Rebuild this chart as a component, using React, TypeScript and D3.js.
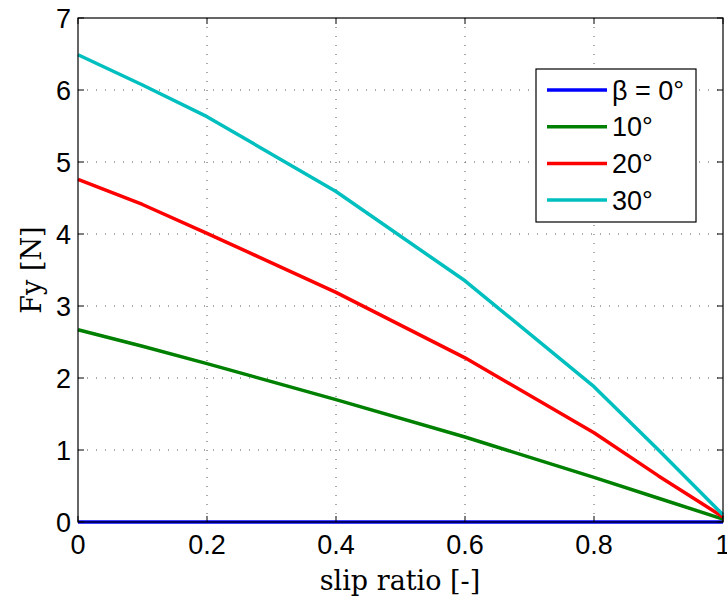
import React from "react";
import * as d3 from "d3";

const slip = [0, 0.1, 0.2, 0.4, 0.6, 0.8, 0.9, 1];
const fy0 = [0, 0, 0, 0, 0, 0, 0, 0];
const fy10 = [2.67, 2.44, 2.2, 1.7, 1.18, 0.62, 0.33, 0.04];
const fy20 = [4.76, 4.41, 4.01, 3.19, 2.28, 1.24, 0.64, 0.07];
const fy30 = [6.49, 6.07, 5.63, 4.59, 3.35, 1.88, 1.0, 0.1];
const seriesNames = ["β = 0°", "10°", "20°", "30°"];
const seriesColors = ["#0000ff", "#008000", "#ff0000", "#00bfbf"];
const xTicks = [0, 0.2, 0.4, 0.6, 0.8, 1];
const yTicks = [0, 1, 2, 3, 4, 5, 6, 7];

export default function App() {
  const W = 727, H = 601;
  const L = 78, R = 723, T = 18, B = 522;
  const x = d3.scaleLinear().domain([0, 1]).range([L, R]);
  const y = d3.scaleLinear().domain([0, 7]).range([B, T]);
  const series = [fy0, fy10, fy20, fy30];
  const line = d3.line<number>().x((_, i) => x(slip[i])).y((d) => y(d));
  const sans = "'Liberation Sans', Arial, Helvetica, sans-serif";
  const serif = "'DejaVu Serif', 'Liberation Serif', serif";
  const tick = 6;
  const lg = { x: 536, y: 69, w: 160, h: 153 };
  return (
    <svg width={W} height={H} style={{ position: "absolute", left: 0, top: 0 }}>
      <rect x={0} y={0} width={W} height={H} fill="#fff" />
      {/* grid */}
      {xTicks.slice(1, -1).map((t) => (
        <line key={"gx" + t} x1={x(t)} x2={x(t)} y1={T} y2={B} stroke="#555" strokeWidth={1} strokeDasharray="1,8" />
      ))}
      {yTicks.slice(1, -1).map((t) => (
        <line key={"gy" + t} x1={L} x2={R} y1={y(t)} y2={y(t)} stroke="#555" strokeWidth={1} strokeDasharray="1,8" />
      ))}
      {/* data */}
      {series.map((s, i) => (
        <path key={i} d={line(s) || ""} fill="none" stroke={seriesColors[i]} strokeWidth={3.5} strokeLinejoin="round" />
      ))}
      {/* box */}
      <rect x={L} y={T} width={R - L} height={B - T} fill="none" stroke="#000" strokeWidth={1.2} />
      {/* ticks */}
      {xTicks.map((t) => (
        <g key={"tx" + t}>
          <line x1={x(t)} x2={x(t)} y1={B} y2={B - tick} stroke="#000" />
          <line x1={x(t)} x2={x(t)} y1={T} y2={T + tick} stroke="#000" />
          <text x={x(t)} y={554} textAnchor="middle" fontFamily={sans} fontSize={27} fill="#000">{t}</text>
        </g>
      ))}
      {yTicks.map((t) => (
        <g key={"ty" + t}>
          <line x1={L} x2={L + tick} y1={y(t)} y2={y(t)} stroke="#000" />
          <line x1={R} x2={R - tick} y1={y(t)} y2={y(t)} stroke="#000" />
          <text x={71} y={y(t) + 9.5} textAnchor="end" fontFamily={sans} fontSize={27} fill="#000">{t}</text>
        </g>
      ))}
      {/* axis labels */}
      <text x={400} y={590} textAnchor="middle" fontFamily={serif} fontSize={27} fill="#000">slip ratio [-]</text>
      <text transform={`translate(41,${(T + B) / 2}) rotate(-90)`} textAnchor="middle" fontFamily={serif} fontSize={27} fill="#000">Fy [N]</text>
      {/* legend */}
      <rect x={lg.x} y={lg.y} width={lg.w} height={lg.h} fill="#fff" stroke="#000" strokeWidth={1.2} />
      {seriesNames.map((n, i) => {
        const yy = 90 + i * 36.7;
        return (
          <g key={"lg" + i}>
            <line x1={547} x2={607} y1={yy} y2={yy} stroke={seriesColors[i]} strokeWidth={3.5} />
            <text x={612} y={yy + 9.5} fontFamily={sans} fontSize={27} fill="#000">{n}</text>
          </g>
        );
      })}
    </svg>
  );
}
